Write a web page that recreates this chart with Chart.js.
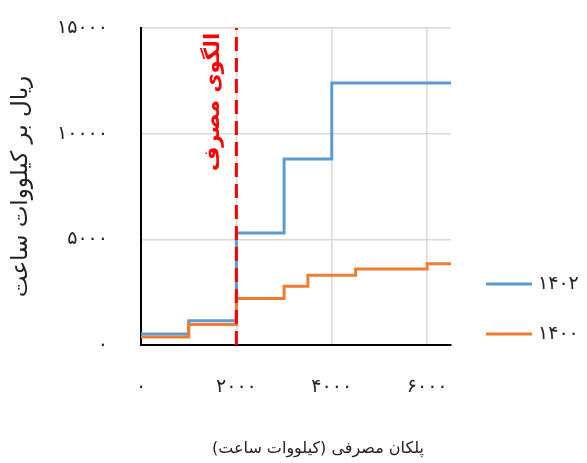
<!DOCTYPE html>
<html>
<head>
<meta charset="utf-8">
<script src="https://cdn.jsdelivr.net/npm/chart.js@4"></script>
<style>
  html, body { margin: 0; padding: 0; background: #fff; }
  #wrap { width: 587px; height: 463px; position: relative; }
</style>
</head>
<body>
<div id="wrap"><canvas id="tariffChart"></canvas></div>
<script>
// step start points (kWh) and tariff per step (rial per kWh)
const blueStart = [0, 1000, 2000, 3000, 4000];
const blueVals = [520, 1150, 5300, 8800, 12400];
const orangeStart = [0, 1000, 2000, 3000, 3500, 4500, 6000];
const orangeVals = [380, 970, 2200, 2780, 3300, 3600, 3850];
const xEnd = 6500;
const patternX = 2000;
const seriesNames = ["1402", "1400"];
const xTicks = [0, 2000, 4000, 6000];
const yTicks = [0, 5000, 10000, 15000];

const BLUE = "#5B9BD5";
const ORANGE = "#ED7D31";
const RED = "#FF0000";
const FONT = "'DejaVu Sans', sans-serif";

function fa(v) {
  return String(v).replace(/\d/g, (d) => "۰۱۲۳۴۵۶۷۸۹"[d]);
}

function steps(starts, vals) {
  const pts = starts.map((x, i) => ({ x: x, y: vals[i] }));
  pts.push({ x: xEnd, y: vals[vals.length - 1] });
  return pts;
}

// texts not handled by the axes: red marker label, axis titles, legend
const extraText = {
  id: "extraText",
  afterDraw(chart) {
    const ctx = chart.ctx;
    const xs = chart.scales.x;
    const area = chart.chartArea;
    ctx.save();
    ctx.direction = "rtl";
    ctx.textAlign = "center";
    ctx.textBaseline = "middle";

    // pattern label next to the dashed line
    ctx.save();
    ctx.translate(xs.getPixelForValue(patternX) - 23, 102);
    ctx.rotate(-Math.PI / 2);
    ctx.fillStyle = RED;
    ctx.font = "bold 21px " + FONT;
    ctx.fillText("الگوی مصرف", 0, 0);
    ctx.restore();

    // y title
    ctx.save();
    ctx.translate(21, (area.top + area.bottom) / 2);
    ctx.rotate(-Math.PI / 2);
    ctx.fillStyle = "#222";
    ctx.font = "23px " + FONT;
    ctx.fillText("ریال بر کیلووات ساعت", 0, 0);
    ctx.restore();

    // x title
    ctx.fillStyle = "#222";
    ctx.font = "16px " + FONT;
    ctx.fillText("پلکان مصرفی (کیلووات ساعت)", 318, 449);

    // legend
    const items = [
      { label: seriesNames[0], color: BLUE, y: 284 },
      { label: seriesNames[1], color: ORANGE, y: 334 },
    ];
    ctx.direction = "ltr";
    ctx.textAlign = "left";
    ctx.font = "19px " + FONT;
    items.forEach((it) => {
      ctx.strokeStyle = it.color;
      ctx.lineWidth = 3;
      ctx.beginPath();
      ctx.moveTo(486, it.y);
      ctx.lineTo(532, it.y);
      ctx.stroke();
      ctx.fillStyle = "#222";
      ctx.fillText(fa(it.label), 538, it.y);
    });
    ctx.restore();
  },
};

const ctx = document.getElementById("tariffChart").getContext("2d");

new Chart(ctx, {
  type: "line",
  data: {
    datasets: [
      {
        label: "pattern",
        data: [
          { x: patternX, y: 0 },
          { x: patternX, y: yTicks[yTicks.length - 1] },
        ],
        borderColor: RED,
        borderWidth: 3,
        borderDash: [14, 7],
        pointRadius: 0,
        order: 0,
      },
      {
        label: seriesNames[1],
        data: steps(orangeStart, orangeVals),
        borderColor: ORANGE,
        borderWidth: 3,
        stepped: "before",
        pointRadius: 0,
        order: 1,
      },
      {
        label: seriesNames[0],
        data: steps(blueStart, blueVals),
        borderColor: BLUE,
        borderWidth: 3,
        stepped: "before",
        pointRadius: 0,
        order: 2,
      },
    ],
  },
  options: {
    responsive: true,
    maintainAspectRatio: false,
    animation: false,
    layout: {
      padding: { top: 28, right: 136, left: 0, bottom: 0 },
    },
    plugins: {
      legend: { display: false },
      tooltip: { enabled: false },
    },
    scales: {
      x: {
        type: "linear",
        min: 0,
        max: xEnd,
        afterFit: (scale) => {
          scale.height = 118;
          scale.paddingLeft = 0;
          scale.paddingRight = 0;
        },
        afterBuildTicks: (scale) => {
          scale.ticks = xTicks.map((v) => ({ value: v }));
        },
        ticks: {
          color: "#222",
          font: { family: FONT, size: 19 },
          padding: 31,
          callback: (v) => fa(v),
        },
        grid: {
          color: "#d9d9d9",
          lineWidth: 1.5,
          drawTicks: false,
        },
        border: { color: "#000", width: 2 },
      },
      y: {
        min: 0,
        max: yTicks[yTicks.length - 1],
        afterFit: (scale) => {
          scale.width = 141;
          scale.paddingTop = 0;
          scale.paddingBottom = 0;
        },
        afterBuildTicks: (scale) => {
          scale.ticks = yTicks.map((v) => ({ value: v }));
        },
        ticks: {
          color: "#222",
          font: { family: FONT, size: 19 },
          padding: 33,
          callback: (v) => fa(v),
        },
        grid: {
          color: "#d9d9d9",
          lineWidth: 1.5,
          drawTicks: false,
        },
        border: { color: "#000", width: 2 },
      },
    },
  },
  plugins: [extraText],
});
</script>
</body>
</html>
